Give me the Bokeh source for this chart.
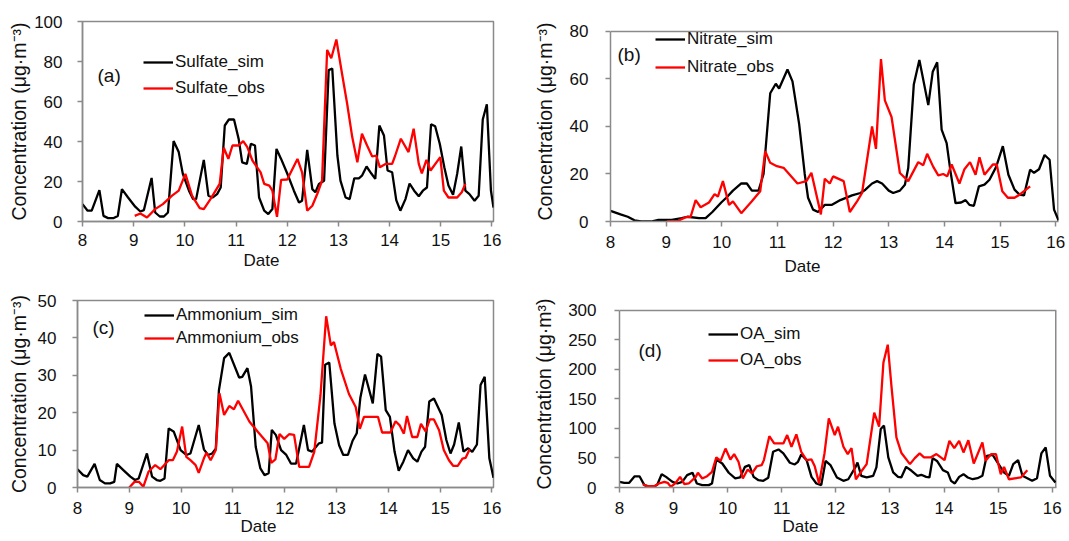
from bokeh.plotting import figure
from bokeh.models import Range1d, Legend, LegendItem, Label, FixedTicker, Title, Span
from bokeh.layouts import row, column
from bokeh.embed import file_html
from bokeh.resources import INLINE

# ---------------- data ----------------
date_ticks = [8, 9, 10, 11, 12, 13, 14, 15, 16]

sulfate_sim_t = [8.00, 8.10, 8.18, 8.33, 8.41, 8.50, 8.61, 8.69, 8.77, 8.89, 9.03, 9.13, 9.20, 9.35, 9.42,
                 9.51, 9.59, 9.67, 9.78, 9.88, 9.96, 10.08, 10.16, 10.22, 10.37, 10.46, 10.54, 10.63, 10.70,
                 10.78, 10.86, 10.96, 11.05, 11.12, 11.21, 11.29, 11.37, 11.45, 11.55, 11.63, 11.71, 11.79,
                 11.88, 12.00, 12.13, 12.23, 12.29, 12.39, 12.49, 12.55, 12.62, 12.72, 12.81, 12.88, 12.98,
                 13.04, 13.14, 13.22, 13.31, 13.40, 13.46, 13.55, 13.64, 13.72, 13.80, 13.89, 13.96, 14.05,
                 14.13, 14.21, 14.31, 14.39, 14.48, 14.57, 14.65, 14.73, 14.81, 14.89, 14.98, 15.07, 15.15,
                 15.24, 15.32, 15.40, 15.48, 15.56, 15.66, 15.74, 15.82, 15.90, 15.98, 16.03]
sulfate_sim_v = [8.7, 5.4, 5.4, 15.7, 2.8, 1.7, 1.7, 2.8, 16.2, 12, 7.4, 5, 5.7, 21.8, 4.5,
                 2.5, 2.5, 4.5, 40.2, 34.7, 23.8, 15.4, 11.2, 11.2, 30.8, 12.9, 12, 13.7, 17,
                 48, 51, 51, 41.4, 29.6, 28.8, 38.9, 38, 12, 5.4, 3.7, 6.2, 36.3,
                 31.3, 24, 15.4, 9.5, 10.4, 35.8, 16.2, 14.6, 18.8, 20.4, 75.7, 76.5, 33,
                 20.4, 12, 11.2, 21.6, 21.6, 22.9, 27.5, 24.1, 21.3, 48, 43, 25.5, 24.6,
                 10.7, 5.4, 11.2, 19, 15.4, 12.6, 15.4, 17, 48.6, 47.6, 38.9, 27, 18,
                 13.4, 23.8, 37.5, 15.4, 13.7, 10.4, 12.9, 51, 58.6, 15.4, 7]

sulfate_obs_t = [9.02, 9.13, 9.26, 9.42, 9.57, 9.75, 9.88, 10.01, 10.14, 10.29, 10.37, 10.50, 10.68, 10.76,
                 10.85, 10.93, 11.05, 11.14, 11.22, 11.32, 11.48, 11.55, 11.65, 11.71, 11.80, 11.88, 12.00,
                 12.20, 12.29, 12.39, 12.49, 12.59, 12.68, 12.78, 12.86, 12.96, 13.07, 13.17, 13.27, 13.37,
                 13.46, 13.56, 13.66, 13.74, 13.81, 13.92, 14.05, 14.11, 14.22, 14.37, 14.47, 14.57, 14.63,
                 14.72, 14.80, 14.99, 15.06, 15.15, 15.32, 15.41, 15.48]
sulfate_obs_v = [2.8, 4, 2, 6.2, 8.7, 12.9, 15.4, 23.8, 12.9, 6.7, 6.2, 11.2, 18.8, 36.9,
                 31.3, 38, 38, 40.2, 37.2, 30.5, 24.6, 18.8, 17.9, 15.4, 2.3, 20.8, 21,
                 31.3, 24.6, 5.4, 7.9, 14, 20.4, 85.8, 81.6, 91, 74, 59, 42.2, 29.6,
                 43.9, 38, 32.5, 33, 27.1, 28.8, 28.8, 33, 41.4, 34.7, 46.4, 28.8, 24.1,
                 30.8, 25.5, 32.2, 15.4, 12, 12, 14.6, 18.8]

nitrate_sim_t = [8.00, 8.18, 8.31, 8.43, 8.55, 8.73, 8.86, 9.10, 9.28, 9.38, 9.59, 9.71, 9.83, 9.99, 10.08,
                 10.20, 10.35, 10.45, 10.54, 10.66, 10.75, 10.87, 10.97, 11.03, 11.18, 11.27, 11.39, 11.49,
                 11.55, 11.64, 11.73, 11.85, 11.98, 12.13, 12.34, 12.49, 12.58, 12.70, 12.79, 12.88, 13.00,
                 13.08, 13.20, 13.29, 13.35, 13.45, 13.55, 13.71, 13.79, 13.87, 13.95, 14.04, 14.11, 14.20,
                 14.30, 14.38, 14.45, 14.53, 14.62, 14.72, 14.81, 14.93, 15.05, 15.15, 15.26, 15.35, 15.43,
                 15.54, 15.61, 15.70, 15.80, 15.89, 15.97, 16.05]
nitrate_sim_v = [4.5, 3, 2, 0.5, 0, 0, 0.7, 0.7, 1.4, 2, 1.4, 1.4, 4, 8, 10,
                 13, 16, 16, 13, 13, 20, 54, 58, 56, 64, 59, 41, 20,
                 10, 5, 4, 7, 7, 9, 11, 12, 13.4, 16, 17, 16, 13,
                 12, 13, 15.5, 22.5, 57.7, 68, 49, 63, 67, 38.7, 33, 21, 7.7,
                 8, 9, 7, 6.6, 14.8, 15.5, 17.6, 23, 31.7, 19.7, 13.4, 11.3, 11,
                 21.8, 20.5, 22, 28, 26, 5, 0.5]

nitrate_obs_t = [9.01, 9.22, 9.34, 9.44, 9.53, 9.62, 9.77, 9.87, 9.93, 10.02, 10.13, 10.20, 10.35, 10.54,
                 10.69, 10.78, 10.87, 10.99, 11.11, 11.36, 11.52, 11.61, 11.78, 11.85, 11.94, 12.00, 12.19,
                 12.30, 12.43, 12.52, 12.70, 12.77, 12.86, 12.93, 13.05, 13.20, 13.35, 13.53, 13.62, 13.69,
                 13.80, 13.89, 13.98, 14.05, 14.13, 14.27, 14.36, 14.46, 14.56, 14.63, 14.72, 14.87, 14.94,
                 15.04, 15.14, 15.26, 15.35, 15.54]
nitrate_obs_v = [0, 0.3, 1.7, 2, 9, 6, 8, 11.5, 10.5, 17, 7, 8.5, 3.5, 8.5,
                 12.7, 29.6, 24.7, 23.3, 22.6, 16, 17, 20.5, 3, 18, 16, 19, 17,
                 4, 8.5, 12, 40, 30.6, 68.4, 51, 44, 20.4, 17, 25, 23.7, 28.5,
                 23, 19.4, 20, 19, 24, 16, 22, 25, 19.7, 27, 19.7, 24, 24,
                 12.7, 10, 10, 11.3, 14.8]

ammonium_sim_t = [8.00, 8.11, 8.19, 8.33, 8.43, 8.53, 8.63, 8.71, 8.76, 8.89, 9.02, 9.11, 9.18, 9.34, 9.44,
                  9.53, 9.60, 9.68, 9.76, 9.86, 9.99, 10.10, 10.18, 10.34, 10.44, 10.52, 10.60, 10.67, 10.73,
                  10.83, 10.93, 11.12, 11.18, 11.28, 11.35, 11.44, 11.53, 11.61, 11.69, 11.75, 11.83, 11.93,
                  12.03, 12.12, 12.22, 12.37, 12.45, 12.53, 12.66, 12.72, 12.78, 12.86, 12.96, 13.05, 13.13,
                  13.22, 13.31, 13.39, 13.46, 13.55, 13.70, 13.79, 13.86, 13.95, 14.03, 14.12, 14.20, 14.29,
                  14.38, 14.48, 14.56, 14.64, 14.71, 14.79, 14.88, 15.03, 15.12, 15.20, 15.27, 15.36, 15.45,
                  15.54, 15.62, 15.71, 15.78, 15.86, 15.95, 16.03]
ammonium_sim_v = [4.9, 3.3, 2.9, 6.3, 2, 1.1, 1.1, 1.5, 6.3, 4.6, 2.9, 2, 2.4, 9.1, 2.9,
                  2, 1.8, 2.4, 15.8, 14.9, 10, 8.7, 9.1, 16.7, 10.2, 8.7, 9.1, 10.4, 26,
                  34.6, 36, 29.4, 29.6, 31.9, 27, 10.9, 5.1, 3.3, 3.8, 15.4, 14, 10,
                  8.7, 6.4, 6.4, 16.7, 10, 9.6, 11.8, 12, 32.8, 33.4, 17.1, 11.3, 8.7,
                  8.7, 12.5, 14.5, 24, 30.2, 22.5, 35.7, 35, 20.7, 18.9, 9.6, 4.5, 6.9,
                  10, 7.8, 6.9, 9.6, 10.9, 23, 23.8, 19.4, 12.7, 9.1, 11.5, 17.4, 9.6,
                  10.5, 9.5, 11.5, 27.4, 29.6, 7.8, 2.6]

ammonium_obs_t = [9.00, 9.10, 9.19, 9.27, 9.37, 9.50, 9.60, 9.76, 9.84, 9.92, 10.02, 10.10, 10.18, 10.28,
                  10.34, 10.44, 10.49, 10.57, 10.67, 10.74, 10.83, 10.93, 11.02, 11.10, 11.32, 11.48, 11.67,
                  11.74, 11.82, 11.90, 11.99, 12.09, 12.18, 12.28, 12.47, 12.57, 12.69, 12.80, 12.89, 12.95,
                  13.08, 13.24, 13.37, 13.45, 13.53, 13.80, 13.88, 14.04, 14.14, 14.22, 14.30, 14.36, 14.46,
                  14.56, 14.63, 14.72, 14.80, 14.88, 14.98, 15.07, 15.17, 15.25, 15.34, 15.43, 15.49, 15.57]
ammonium_obs_v = [0, 1.5, 1.5, 0.2, 4.2, 6, 4.9, 7.3, 7.3, 9.6, 16.3, 8.2, 7.3, 6,
                  3.9, 7.8, 9.3, 7.3, 10, 25.2, 19.4, 21.8, 20.9, 23.2, 17.6, 14.9, 11.8,
                  6.6, 7.5, 14.3, 13, 14.3, 14.1, 5.5, 5.5, 9.5, 24.6, 45.8, 38, 38.9,
                  31.8, 25, 21.5, 15.7, 18.9, 18.9, 14.7, 14.7, 17.7, 16.6, 14.4, 19.1, 13.5,
                  13.5, 17, 15, 18.2, 18.2, 15.3, 10, 7.3, 5.8, 5.8, 7.7, 7.9, 10.2]

oa_sim_t = [8.00, 8.09, 8.18, 8.28, 8.37, 8.46, 8.55, 8.64, 8.70, 8.78, 8.86, 8.98, 9.07, 9.16, 9.25,
            9.35, 9.43, 9.53, 9.65, 9.71, 9.79, 9.90, 10.02, 10.14, 10.23, 10.32, 10.40, 10.48, 10.57,
            10.66, 10.75, 10.84, 10.94, 11.03, 11.15, 11.24, 11.30, 11.36, 11.46, 11.55, 11.64, 11.73,
            11.81, 11.90, 12.02, 12.14, 12.23, 12.36, 12.40, 12.47, 12.57, 12.69, 12.75, 12.83, 12.89,
            12.97, 13.06, 13.15, 13.21, 13.30, 13.40, 13.51, 13.58, 13.67, 13.73, 13.79, 13.87, 13.98,
            14.07, 14.13, 14.20, 14.28, 14.36, 14.44, 14.53, 14.62, 14.71, 14.79, 14.90, 15.00, 15.11,
            15.20, 15.28, 15.37, 15.45, 15.54, 15.63, 15.72, 15.80, 15.88, 15.96, 16.06]
oa_sim_v = [9.6, 8, 8, 19, 19, 4, 1, 1, 5, 22.6, 18, 9.6, 6.8, 9.6, 21,
            25, 6.8, 4, 4, 6.8, 47.5, 40.7, 25, 15.3, 17, 35, 38, 18, 12.4,
            11.3, 16.4, 60.5, 64.5, 57.7, 41.9, 39, 43.6, 56, 46.4, 18, 6.8, 4,
            45, 38, 17, 11.3, 14, 34, 42.4, 19.8, 17, 19.8, 34, 99, 105,
            51, 25.5, 18, 17, 35, 28.3, 19.8, 21.5, 18, 17, 49.8, 45, 29.4,
            25.5, 11.3, 6.8, 18, 22.6, 17, 14, 15.8, 19.8, 53.7, 55.4, 40.7, 25.5,
            19.8, 39.6, 46.4, 19.8, 15.8, 11.3, 15.8, 57.7, 67.9, 19.8, 8.5]

oa_obs_t = [8.43, 8.52, 8.64, 8.73, 8.83, 8.89, 8.95, 9.04, 9.12, 9.20, 9.28, 9.41, 9.45, 9.53, 9.62,
            9.71, 9.79, 9.87, 9.96, 10.05, 10.12, 10.20, 10.28, 10.37, 10.45, 10.54, 10.63, 10.67, 10.77,
            10.86, 10.95, 11.03, 11.10, 11.18, 11.27, 11.36, 11.46, 11.55, 11.61, 11.69, 11.79, 11.87,
            11.98, 12.04, 12.14, 12.22, 12.29, 12.37, 12.48, 12.57, 12.71, 12.80, 12.88, 12.96, 13.03,
            13.12, 13.21, 13.37, 13.46, 13.55, 13.63, 13.75, 13.86, 14.01, 14.10, 14.19, 14.28, 14.36,
            14.45, 14.55, 14.71, 14.77, 14.87, 14.96, 15.05, 15.11, 15.20, 15.42, 15.54]
oa_obs_v = [5.6, 2.3, 2.3, 6.8, 9.6, 8, 1.1, 8, 18, 5.6, 6.8, 18, 25, 15.3, 19.2,
            26.6, 51, 45, 66, 47.5, 56.6, 43.6, 15.3, 30.5, 23.8, 36, 38, 46.4, 87,
            74.7, 74.7, 74.7, 88.8, 69, 90, 60.5, 46.4, 47.5, 36, 6.8, 57.7, 117,
            88.8, 103, 69, 56.6, 66.7, 14, 28.3, 39.6, 127, 103, 212, 242, 170,
            85, 59, 39.6, 49.8, 57.7, 51, 51, 56.6, 46.4, 79, 66.7, 79, 59.4,
            80, 40.7, 76.4, 45.2, 56.6, 56.6, 22.6, 35, 14, 17, 29.4]

# ---------------- styling ----------------
FONT = "Liberation Sans"
TXT = "#111111"
GRAY = "#8a8a8a"
RED = "#ff0000"
BLACK = "#000000"
LW = 2.3


def panel(cfg):
    ytop = cfg["yticks"][-1]
    p = figure(width=cfg["w"], height=cfg["h"], output_backend="svg", toolbar_location=None,
               x_range=Range1d(8, cfg["xend"]), y_range=Range1d(0, cfg["yrange_top"]),
               min_border_left=cfg["bl"], min_border_right=cfg["br"],
               min_border_top=cfg["bt"], min_border_bottom=cfg["bb"])
    p.grid.visible = False
    p.background_fill_color = "white"
    p.border_fill_color = "white"

    p.xaxis.ticker = FixedTicker(ticks=date_ticks)
    p.yaxis.ticker = FixedTicker(ticks=cfg["yticks"])
    p.yaxis.bounds = (0, ytop)
    for ax, st in ((p.xaxis, cfg["xst"]), (p.yaxis, cfg["yst"])):
        ax.axis_line_color = GRAY
        ax.axis_line_width = 1.5
        ax.major_tick_line_color = GRAY
        ax.major_tick_line_width = 1.5
        ax.major_tick_out = 5
        ax.major_tick_in = 0
        ax.minor_tick_line_color = None
        ax.major_label_text_font = FONT
        ax.major_label_text_font_size = "17px"
        ax.major_label_text_color = TXT
        ax.major_label_standoff = st

    p.yaxis.axis_label = cfg["ytext"]
    p.yaxis.axis_label_text_font = FONT
    p.yaxis.axis_label_text_font_size = "19.5px"
    p.yaxis.axis_label_text_font_style = "normal"
    p.yaxis.axis_label_text_color = TXT
    p.yaxis.axis_label_standoff = cfg["ylst"]

    if cfg["yrange_top"] > ytop:
        # frame box drawn only up to the top tick
        p.outline_line_color = None
        p.add_layout(Span(location=ytop, dimension="width", line_color=GRAY, line_width=1.5))
        p.segment(x0=[cfg["xend"]], y0=[0], x1=[cfg["xend"]], y1=[ytop],
                  line_color=GRAY, line_width=3)
    else:
        p.outline_line_color = GRAY
        p.outline_line_width = 1.5

    r_sim = p.line(cfg["sim_t"], cfg["sim_v"], line_color=BLACK, line_width=LW)
    r_obs = p.line(cfg["obs_t"], cfg["obs_v"], line_color=RED, line_width=LW)

    legend = Legend(items=[LegendItem(label=cfg["names"][0], renderers=[r_sim]),
                           LegendItem(label=cfg["names"][1], renderers=[r_obs])],
                    location=cfg["leg"], orientation="vertical",
                    glyph_width=30, glyph_height=20, label_height=20, label_standoff=2,
                    spacing=cfg["legsp"], padding=0, margin=0,
                    border_line_alpha=0, background_fill_alpha=0,
                    label_text_font=FONT, label_text_font_size="17px", label_text_color=TXT)
    p.add_layout(legend, "center")

    p.add_layout(Label(x=cfg["tag"][0], y=cfg["tag"][1], x_units="screen", y_units="screen",
                       text=cfg["tagtext"], text_font=FONT, text_font_size="19px",
                       text_color=TXT, text_baseline="middle", text_align="left"))

    p.add_layout(Title(text="Date", align="left", offset=cfg["date_off"], standoff=cfg["date_so"],
                       vertical_align="top", text_font=FONT, text_font_size="17px",
                       text_font_style="normal", text_color=TXT), "below")
    return p


pa = panel(dict(w=530, h=289, bl=82, br=37, bt=21, bb=68, xend=16.03,
                yticks=[0, 20, 40, 60, 80, 100], yrange_top=100, xst=7, yst=15, ylst=1,
                sim_t=sulfate_sim_t, sim_v=sulfate_sim_v, obs_t=sulfate_obs_t, obs_v=sulfate_obs_v,
                names=("Sulfate_sim", "Sulfate_obs"), leg=(61, 123), legsp=6,
                tag=(15, 146), tagtext="(a)", ytext="Concentration (μg·m⁻³)",
                date_off=161, date_so=4))

pb = panel(dict(w=538, h=289, bl=76, br=10, bt=21, bb=68, xend=16.05,
                yticks=[0, 20, 40, 60, 80], yrange_top=84.2, xst=9, yst=17, ylst=11,
                sim_t=nitrate_sim_t, sim_v=nitrate_sim_v, obs_t=nitrate_obs_t, obs_v=nitrate_obs_v,
                names=("Nitrate_sim", "Nitrate_obs"), leg=(45, 144), legsp=8,
                tag=(7, 167), tagtext="(b)", ytext="Concentration (μg·m⁻³)",
                date_off=174, date_so=13))

pc = panel(dict(w=530, h=251, bl=77, br=37, bt=11, bb=53, xend=16.03,
                yticks=[0, 10, 20, 30, 40, 50], yrange_top=50, xst=9, yst=16, ylst=5,
                sim_t=ammonium_sim_t, sim_v=ammonium_sim_v, obs_t=ammonium_obs_t, obs_v=ammonium_obs_v,
                names=("Ammonium_sim", "Ammonium_obs"), leg=(67, 139), legsp=3,
                tag=(15, 160), tagtext="(c)", ytext="Concentration (μg·m⁻³)",
                date_off=163, date_so=0))

pd_ = panel(dict(w=538, h=251, bl=86, br=12, bt=11, bb=53, xend=16.08,
                 yticks=[0, 50, 100, 150, 200, 250, 300], yrange_top=316.9, xst=9, yst=18, ylst=10,
                 sim_t=oa_sim_t, sim_v=oa_sim_v, obs_t=oa_obs_t, obs_v=oa_obs_v,
                 names=("OA_sim", "OA_obs"), leg=(89, 117), legsp=6,
                 tag=(19, 137), tagtext="(d)", ytext="Concentration (μg·m³)",
                 date_off=163, date_so=0))

layout = column(row(pa, pb), row(pc, pd_))
open("out.html", "w").write(file_html(layout, INLINE))
